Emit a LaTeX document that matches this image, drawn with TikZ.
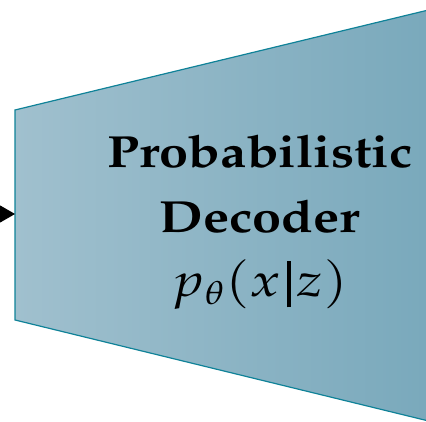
\documentclass[tikz,border=0pt]{standalone}
\usepackage[T1]{fontenc}
\usepackage{mathpazo}
\usetikzlibrary{arrows.meta}
\definecolor{edgeteal}{RGB}{15,130,152}
\definecolor{fillL}{RGB}{160,192,206}
\definecolor{fillR}{RGB}{120,168,187}
\newcommand{\thickbar}{\mkern2mu\rule[-0.22em]{0.065em}{0.98em}\mkern2mu}
\tikzset{
  lbl/.style={anchor=base, inner sep=0pt, font=\huge\bfseries, xscale=2.52, yscale=2.17},
  mlbl/.style={anchor=base, inner sep=0pt, font=\huge, xscale=2.72, yscale=2.27},
  arr/.style={-{Triangle[length=15pt,width=17pt]}, line width=1pt, black}
}
\begin{document}
\begin{tikzpicture}[x=1pt,y=1pt]
\useasboundingbox (0,0) rectangle (426,422);
\clip (0,0) rectangle (426,422);
\coordinate (tl) at (15,312);
\coordinate (bl) at (15,102);
\coordinate (tr) at (445,416);
\coordinate (br) at (445,-3);
\coordinate (tip) at (15,208);
\coordinate (tail) at (-30,208);
\shade[left color=fillL, right color=fillR] (bl) -- (tl) -- (tr) -- (br) -- cycle;
\draw[edgeteal, line width=1.2pt, line join=miter] (br) -- (bl) -- (tl) -- (tr);
\draw[arr] (tail) -- (tip);
\node[lbl] (l1) at (260,254) {Probabilistic};
\node[lbl] (l2) at (260,189) {Decoder};
\node[mlbl] (l3) at (260,125) {$p_{\theta}(x\thickbar z)$};
\end{tikzpicture}
\end{document}
